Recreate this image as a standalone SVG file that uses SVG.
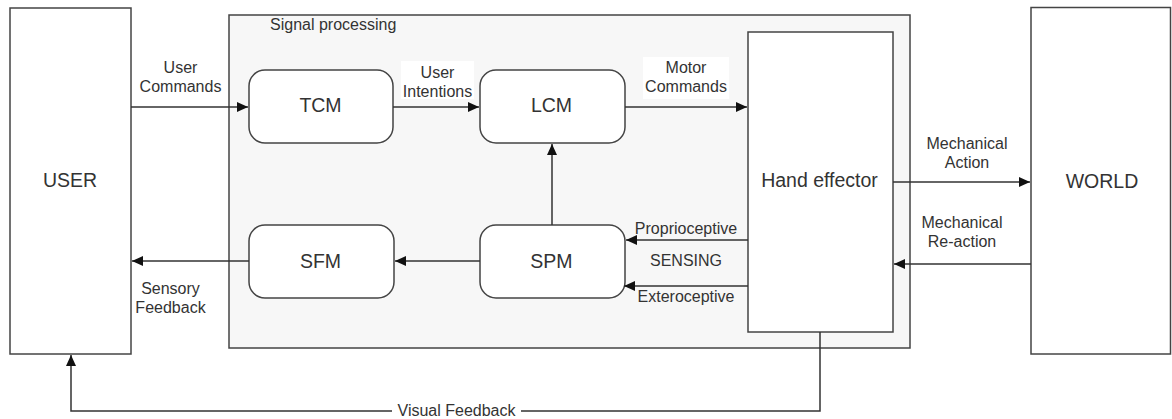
<svg xmlns="http://www.w3.org/2000/svg" width="1172" height="419" viewBox="0 0 1172 419">
<style>
  .box{fill:#fff;stroke:#444;stroke-width:1.5}
  .grp{fill:#f7f7f7;stroke:#444;stroke-width:1.5}
  .ln{fill:none;stroke:#333;stroke-width:1.5}
  .nt{font-family:"Liberation Sans",Arial,sans-serif;font-size:19.5px;fill:#333;text-anchor:middle}
  .lb{font-family:"Liberation Sans",Arial,sans-serif;font-size:16px;fill:#333;text-anchor:middle}
  .lbl{font-family:"Liberation Sans",Arial,sans-serif;font-size:16px;fill:#333}
</style>
<defs>
  <marker id="ah" markerUnits="userSpaceOnUse" markerWidth="12" markerHeight="10" refX="11" refY="5" orient="auto">
    <path d="M0,0 L11,5 L0,10 Z" fill="#111"/>
  </marker>
</defs>
<rect width="1172" height="419" fill="#fff"/>
<g id="signal-processing">
  <rect class="grp" x="229" y="15" width="681" height="333"/>
  <text class="lbl" x="270" y="29.5">Signal processing</text>
</g>
<g id="user">
  <rect class="box" x="10" y="8" width="121" height="346"/>
  <text class="nt" x="70" y="186.5">USER</text>
</g>
<g id="world">
  <rect class="box" x="1031" y="7.5" width="139.5" height="346.5"/>
  <text class="nt" x="1102" y="187.5">WORLD</text>
</g>
<g id="hand-effector">
  <rect class="box" x="748" y="32" width="145" height="300"/>
  <text class="nt" x="819.5" y="186.5">Hand effector</text>
</g>
<g id="tcm">
  <rect class="box" x="249" y="70" width="144" height="73" rx="16"/>
  <text class="nt" x="320.5" y="111.5">TCM</text>
</g>
<g id="lcm">
  <rect class="box" x="480" y="70" width="145" height="73" rx="16"/>
  <text class="nt" x="551.5" y="111.5">LCM</text>
</g>
<g id="sfm">
  <rect class="box" x="249" y="225" width="145" height="73" rx="16"/>
  <text class="nt" x="320.5" y="267.5">SFM</text>
</g>
<g id="spm">
  <rect class="box" x="480" y="225" width="145" height="73" rx="16"/>
  <text class="nt" x="551.5" y="267.5">SPM</text>
</g>
<g id="connectors">
  <path class="ln" d="M131,107 H248" marker-end="url(#ah)"/>
  <path class="ln" d="M393,107 H479" marker-end="url(#ah)"/>
  <path class="ln" d="M625,107 H747" marker-end="url(#ah)"/>
  <path class="ln" d="M552,225 V144" marker-end="url(#ah)"/>
  <path class="ln" d="M480,261 H395" marker-end="url(#ah)"/>
  <path class="ln" d="M249,261 H132" marker-end="url(#ah)"/>
  <path class="ln" d="M748,240 H626" marker-end="url(#ah)"/>
  <path class="ln" d="M748,286 H624" marker-end="url(#ah)"/>
  <path class="ln" d="M893,182 H1030" marker-end="url(#ah)"/>
  <path class="ln" d="M1031,264 H894" marker-end="url(#ah)"/>
  <path class="ln" d="M820,332 V411 H71 V355" marker-end="url(#ah)"/>
  <rect x="401" y="61" width="73" height="38" fill="#fff"/>
  <rect x="643" y="57" width="86" height="42" fill="#fff"/>
  <rect x="392" y="402" width="129" height="17" fill="#fff"/>
  <text class="lb" x="180.5" y="73">User</text>
  <text class="lb" x="180.5" y="92">Commands</text>
  <text class="lb" x="437.5" y="78">User</text>
  <text class="lb" x="437.5" y="97">Intentions</text>
  <text class="lb" x="686" y="73">Motor</text>
  <text class="lb" x="686" y="92">Commands</text>
  <text class="lb" x="967" y="149">Mechanical</text>
  <text class="lb" x="967" y="168">Action</text>
  <text class="lb" x="962" y="228">Mechanical</text>
  <text class="lb" x="962" y="247">Re-action</text>
  <text class="lb" x="686" y="233.5">Proprioceptive</text>
  <text class="lb" x="686" y="265.5">SENSING</text>
  <text class="lb" x="686" y="302">Exteroceptive</text>
  <text class="lb" x="170.5" y="293.5">Sensory</text>
  <text class="lb" x="170.5" y="312.5">Feedback</text>
  <text class="lb" x="456.5" y="415.5">Visual Feedback</text>
</g>
</svg>
